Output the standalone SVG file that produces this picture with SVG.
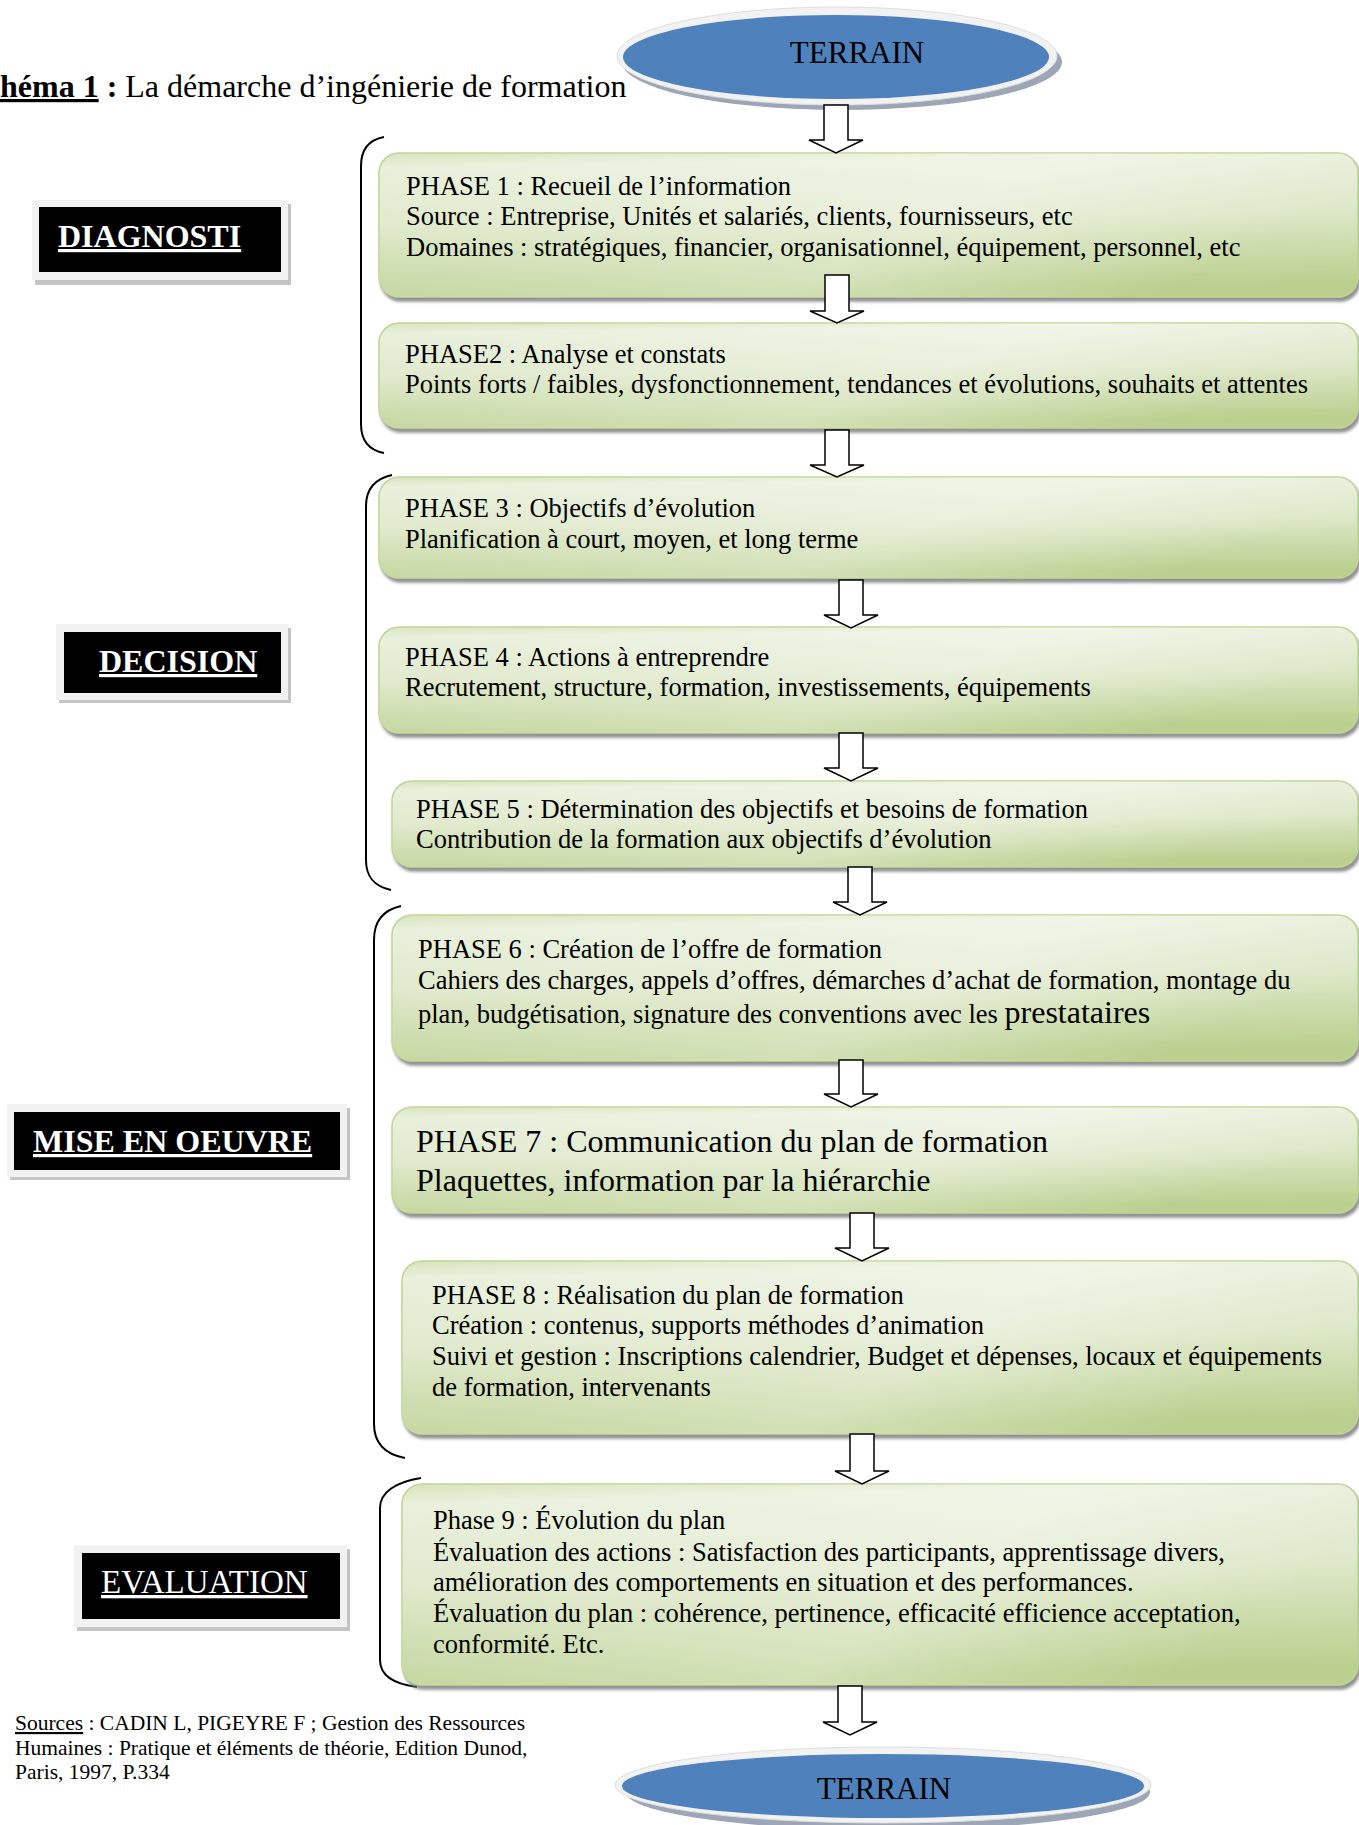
<svg xmlns="http://www.w3.org/2000/svg" width="1359" height="1825" viewBox="0 0 1359 1825">
<defs>
<linearGradient id="boxg" x1="0" y1="0" x2="0.12" y2="1">
<stop offset="0" stop-color="#d7e4bc"/>
<stop offset="0.1" stop-color="#e9f0dc"/>
<stop offset="0.5" stop-color="#dee8c9"/>
<stop offset="1" stop-color="#bbd08f"/>
</linearGradient>
<linearGradient id="boxh" x1="0" y1="0" x2="1" y2="0.3">
<stop offset="0" stop-color="#ffffff" stop-opacity="0"/>
<stop offset="0.65" stop-color="#ffffff" stop-opacity="0.35"/>
<stop offset="1" stop-color="#ffffff" stop-opacity="0"/>
</linearGradient>
<filter id="sh" x="-5%" y="-10%" width="115%" height="130%">
<feDropShadow dx="2" dy="4" stdDeviation="1.5" flood-color="#7f7f7f" flood-opacity="0.85"/>
</filter>
</defs>
<style>
.box{fill:url(#boxg);stroke:#bfd495;stroke-width:1.5;filter:url(#sh)}
.hl{fill:url(#boxh);stroke:none}
.t{font-family:"Liberation Serif","Times New Roman",serif;font-size:26.5px;fill:#000}
.big{font-size:32px}
.lbl{font-family:"Liberation Serif","Times New Roman",serif;font-size:32px;fill:#fff;text-decoration:underline}
.b{font-weight:bold}
.src{font-family:"Liberation Serif","Times New Roman",serif;font-size:21.5px;fill:#000}
.ring{fill:#f2f2f2;stroke:#dedede;stroke-width:1}
.esh{fill:#9da6b6}
.blue{fill:#4f81bd}
.arr{fill:#fff;stroke:#000;stroke-width:1.5;stroke-linejoin:miter}
.brace{fill:none;stroke:#000;stroke-width:2}
.lo{fill:#f2f2f2}
.ls{fill:#c4c4c4}
.lb{fill:#000}
</style>
<rect width="1359" height="1825" fill="#fff"/>

<g id="title">
<text class="t" x="0" y="97" style="font-size:32px"><tspan class="b" text-decoration="underline">héma 1</tspan><tspan class="b"> : </tspan>La démarche d’ingénierie de formation</text>
</g>

<g id="terrain-top">
<ellipse class="esh" cx="842" cy="62" rx="220" ry="48"/>
<ellipse class="ring" cx="837" cy="56" rx="220" ry="49"/>
<ellipse class="blue" cx="836" cy="57" rx="213" ry="42"/>
<text class="t" x="857" y="63" text-anchor="middle" style="font-size:31px">TERRAIN</text>
</g>

<g id="label-diagnostic">
<rect class="ls" x="35" y="204" width="256" height="81"/>
<rect class="lo" x="32" y="200" width="256" height="80"/>
<rect class="lb" x="39" y="207" width="242" height="65"/>
<text class="lbl b" x="58" y="247">DIAGNOSTI</text>
</g>
<g id="label-decision">
<rect class="ls" x="59" y="628" width="232" height="75"/>
<rect class="lo" x="56" y="624" width="232" height="76"/>
<rect class="lb" x="64" y="632" width="217" height="61"/>
<text class="lbl b" x="99" y="672">DECISION</text>
</g>
<g id="label-mise">
<rect class="ls" x="10" y="1108" width="340" height="72"/>
<rect class="lo" x="7" y="1104" width="340" height="73"/>
<rect class="lb" x="14" y="1112" width="326" height="58"/>
<text class="lbl b" x="33" y="1152">MISE EN OEUVRE</text>
</g>
<g id="label-evaluation">
<rect class="ls" x="77" y="1549" width="273" height="82"/>
<rect class="lo" x="74" y="1545" width="273" height="82"/>
<rect class="lb" x="82" y="1553" width="258" height="66"/>
<text class="lbl" x="101" y="1593" style="font-size:33px">EVALUATION</text>
</g>

<g id="braces">
<path class="brace" d="M384 137 C368 140 361 150 361 166 L361 424 C361 440 368 450 384 453"/>
<path class="brace" d="M392 475 C374 479 366 490 366 506 L366 860 C366 876 373 886 391 890"/>
<path class="brace" d="M401 906 C383 910 374 922 374 940 L374 1424 C374 1442 384 1454 405 1458"/>
<path class="brace" d="M421 1478 C396 1482 380 1492 380 1508 L380 1660 C380 1676 394 1684 417 1687"/>
</g>

<g id="phase1">
<rect class="box" x="379" y="153" width="979" height="144" rx="20"/>
<rect class="hl" x="379" y="153" width="979" height="144" rx="20"/>
<text class="t" x="406" y="195">PHASE 1 : Recueil de l’information</text>
<text class="t" x="406" y="225">Source : Entreprise, Unités et salariés, clients, fournisseurs, etc</text>
<text class="t" x="406" y="256">Domaines : stratégiques, financier, organisationnel, équipement, personnel, etc</text>
</g>
<g id="phase2">
<rect class="box" x="379" y="323" width="979" height="105" rx="20"/>
<rect class="hl" x="379" y="323" width="979" height="105" rx="20"/>
<text class="t" x="405" y="363">PHASE2 : Analyse et constats</text>
<text class="t" x="405" y="393">Points forts / faibles, dysfonctionnement, tendances et évolutions, souhaits et attentes</text>
</g>
<g id="phase3">
<rect class="box" x="379" y="477" width="979" height="101" rx="20"/>
<rect class="hl" x="379" y="477" width="979" height="101" rx="20"/>
<text class="t" x="405" y="517">PHASE 3 : Objectifs d’évolution</text>
<text class="t" x="405" y="548">Planification à court, moyen, et long terme</text>
</g>
<g id="phase4">
<rect class="box" x="379" y="627" width="979" height="106" rx="20"/>
<rect class="hl" x="379" y="627" width="979" height="106" rx="20"/>
<text class="t" x="405" y="666">PHASE 4 : Actions à entreprendre</text>
<text class="t" x="405" y="696">Recrutement, structure, formation, investissements, équipements</text>
</g>
<g id="phase5">
<rect class="box" x="392" y="781" width="966" height="86" rx="20"/>
<rect class="hl" x="392" y="781" width="966" height="86" rx="20"/>
<text class="t" x="416" y="818">PHASE 5 : Détermination des objectifs et besoins de formation</text>
<text class="t" x="416" y="848">Contribution de la formation aux objectifs d’évolution</text>
</g>
<g id="phase6">
<rect class="box" x="392" y="915" width="966" height="146" rx="20"/>
<rect class="hl" x="392" y="915" width="966" height="146" rx="20"/>
<text class="t" x="418" y="958">PHASE 6 : Création de l’offre de formation</text>
<text class="t" x="418" y="989">Cahiers des charges, appels d’offres, démarches d’achat de formation, montage du</text>
<text class="t" x="418" y="1023">plan, budgétisation, signature des conventions avec les <tspan class="big">prestataires</tspan></text>
</g>
<g id="phase7">
<rect class="box" x="392" y="1107" width="966" height="106" rx="20"/>
<rect class="hl" x="392" y="1107" width="966" height="106" rx="20"/>
<text class="t big" x="416" y="1152">PHASE 7 : Communication du plan de formation</text>
<text class="t big" x="416" y="1191">Plaquettes, information par la hiérarchie</text>
</g>
<g id="phase8">
<rect class="box" x="402" y="1261" width="956" height="173" rx="20"/>
<rect class="hl" x="402" y="1261" width="956" height="173" rx="20"/>
<text class="t" x="432" y="1304">PHASE 8 : Réalisation du plan de formation</text>
<text class="t" x="432" y="1334">Création : contenus, supports méthodes d’animation</text>
<text class="t" x="432" y="1365">Suivi et gestion : Inscriptions calendrier, Budget et dépenses, locaux et équipements</text>
<text class="t" x="432" y="1396">de formation, intervenants</text>
</g>
<g id="phase9">
<rect class="box" x="402" y="1484" width="956" height="201" rx="20"/>
<rect class="hl" x="402" y="1484" width="956" height="201" rx="20"/>
<text class="t" x="433" y="1529">Phase 9 : Évolution du plan</text>
<text class="t" x="433" y="1561">Évaluation des actions : Satisfaction des participants, apprentissage divers,</text>
<text class="t" x="433" y="1591">amélioration des comportements en situation et des performances.</text>
<text class="t" x="433" y="1622">Évaluation du plan : cohérence, pertinence, efficacité efficience acceptation,</text>
<text class="t" x="433" y="1653">conformité. Etc.</text>
</g>

<g id="terrain-bottom">
<ellipse class="esh" cx="888" cy="1792" rx="262" ry="38"/>
<ellipse class="ring" cx="883" cy="1785" rx="268" ry="38"/>
<ellipse class="blue" cx="883" cy="1786" rx="261" ry="32"/>
<text class="t" x="884" y="1799" text-anchor="middle" style="font-size:31px">TERRAIN</text>
</g>

<g id="sources">
<text class="src" x="15" y="1730"><tspan text-decoration="underline">Sources</tspan> : CADIN L, PIGEYRE F ; Gestion des Ressources</text>
<text class="src" x="15" y="1755">Humaines : Pratique et éléments de théorie, Edition Dunod,</text>
<text class="src" x="15" y="1779">Paris, 1997, P.334</text>
</g>

<g id="connectors">
<path class="arr" d="M824 105 H848 V140 H863 L836 153 L809 140 H824 Z"/>
<path class="arr" d="M825 275 H849 V311 H864 L837 323 L810 311 H825 Z"/>
<path class="arr" d="M825 430 H849 V465 H864 L837 477 L810 465 H825 Z"/>
<path class="arr" d="M839 580 H863 V615 H878 L851 628 L824 615 H839 Z"/>
<path class="arr" d="M839 733 H863 V768 H878 L851 781 L824 768 H839 Z"/>
<path class="arr" d="M848 867 H872 V902 H887 L860 915 L833 902 H848 Z"/>
<path class="arr" d="M839 1060 H863 V1094 H878 L851 1107 L824 1094 H839 Z"/>
<path class="arr" d="M850 1213 H874 V1248 H889 L862 1261 L835 1248 H850 Z"/>
<path class="arr" d="M850 1434 H874 V1471 H889 L862 1484 L835 1471 H850 Z"/>
<path class="arr" d="M838 1686 H862 V1722 H877 L850 1735 L823 1722 H838 Z"/>
</g>
</svg>
